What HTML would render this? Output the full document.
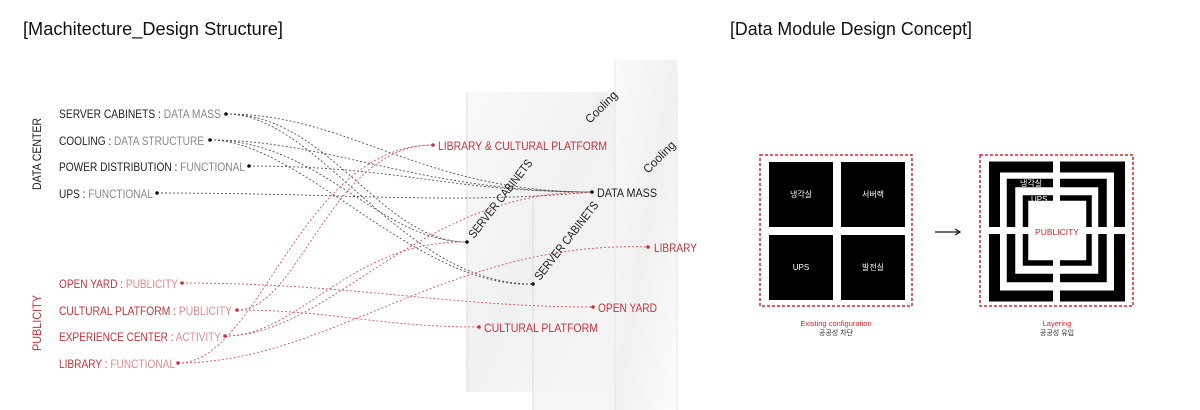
<!DOCTYPE html>
<html><head><meta charset="utf-8"><style>
html,body{margin:0;padding:0;background:#fff;}
svg{display:block;font-family:"Liberation Sans","Noto Sans CJK KR",sans-serif;}
</style></head><body>
<svg width="1200" height="410" viewBox="0 0 1200 410" xmlns="http://www.w3.org/2000/svg">
<defs>
<linearGradient id="g1" x1="0" y1="0" x2="1" y2="1">
<stop offset="0" stop-color="#fafafa"/><stop offset="0.5" stop-color="#f0f0f0"/><stop offset="1" stop-color="#fcfcfc"/>
</linearGradient>
</defs>
<rect width="1200" height="410" fill="#fff"/>
<text x="23" y="35" font-size="18" fill="#111" textLength="260" lengthAdjust="spacingAndGlyphs">[Machitecture_Design Structure]</text>
<text x="730" y="35" font-size="18" fill="#111" textLength="242" lengthAdjust="spacingAndGlyphs">[Data Module Design Concept]</text>

<!-- panels -->
<rect x="467" y="92" width="148" height="300" fill="url(#g1)"/>
<rect x="533" y="198" width="82" height="212" fill="#f2f2f2" opacity="0.7"/>
<rect x="615" y="60" width="62" height="350" fill="url(#g1)"/>
<line x1="467" y1="92" x2="467" y2="392" stroke="#dcdcdc"/>
<line x1="533" y1="198" x2="533" y2="410" stroke="#dcdcdc"/>
<line x1="615" y1="60" x2="615" y2="410" stroke="#e6e6e6"/>
<line x1="677" y1="70" x2="677" y2="410" stroke="#e6e6e6"/>

<!-- connectors black -->
<g fill="none" stroke="#555" stroke-width="0.9" stroke-dasharray="2,2">
<path d="M226,114 C350,114 420,192 592,192"/>
<path d="M226,114 C330,114 380,242 467,242"/>
<path d="M226,114 C320,114 400,284 533,284"/>
<path d="M210,140 C330,140 420,192 592,192"/>
<path d="M210,140 C320,140 380,242 467,242"/>
<path d="M210,140 C300,140 420,290 533,284"/>
<path d="M249,166 C400,166 450,192 592,192"/>
<path d="M157,193 C350,193 450,205 592,192"/>
</g>
<!-- connectors red -->
<g fill="none" stroke="#e0505a" stroke-width="0.9" stroke-dasharray="2,2">
<path d="M182,283 C350,283 450,307 593,307"/>
<path d="M237,310 C300,310 330,145 433,145"/>
<path d="M237,310 C330,310 380,327 479,327"/>
<path d="M225,336 C330,336 420,190 592,192"/>
<path d="M225,336 C300,336 350,240 467,242"/>
<path d="M178,363 C260,363 300,145 433,145"/>
<path d="M178,363 C330,363 450,240 648,247"/>
</g>

<g font-size="12" lengthAdjust="spacingAndGlyphs">
<text x="59" y="118" fill="#222" textLength="162" lengthAdjust="spacingAndGlyphs">SERVER CABINETS : <tspan fill="#888">DATA MASS</tspan></text>
<text x="59" y="145" fill="#222" textLength="145" lengthAdjust="spacingAndGlyphs">COOLING : <tspan fill="#888">DATA STRUCTURE</tspan></text>
<text x="59" y="171" fill="#222" textLength="186" lengthAdjust="spacingAndGlyphs">POWER DISTRIBUTION : <tspan fill="#888">FUNCTIONAL</tspan></text>
<text x="59" y="198" fill="#222" textLength="94" lengthAdjust="spacingAndGlyphs">UPS : <tspan fill="#888">FUNCTIONAL</tspan></text>
<text x="59" y="288" fill="#c8323c" textLength="119" lengthAdjust="spacingAndGlyphs">OPEN YARD : <tspan fill="#e48a90">PUBLICITY</tspan></text>
<text x="59" y="315" fill="#c8323c" textLength="173" lengthAdjust="spacingAndGlyphs">CULTURAL PLATFORM : <tspan fill="#e48a90">PUBLICITY</tspan></text>
<text x="59" y="341" fill="#c8323c" textLength="162" lengthAdjust="spacingAndGlyphs">EXPERIENCE CENTER : <tspan fill="#e48a90">ACTIVITY</tspan></text>
<text x="59" y="368" fill="#c8323c" textLength="116" lengthAdjust="spacingAndGlyphs">LIBRARY : <tspan fill="#e48a90">FUNCTIONAL</tspan></text>
<text transform="translate(41,190) rotate(-90)" fill="#222" textLength="72" lengthAdjust="spacingAndGlyphs">DATA CENTER</text>
<text transform="translate(41,351) rotate(-90)" fill="#c8323c" textLength="56" lengthAdjust="spacingAndGlyphs">PUBLICITY</text>

<text x="438" y="150" fill="#c8323c" textLength="169" lengthAdjust="spacingAndGlyphs">LIBRARY &amp; CULTURAL PLATFORM</text>
<text x="597" y="197" fill="#222" textLength="60" lengthAdjust="spacingAndGlyphs">DATA MASS</text>
<text x="654" y="252" fill="#c8323c" textLength="43" lengthAdjust="spacingAndGlyphs">LIBRARY</text>
<text x="598" y="312" fill="#c8323c" textLength="59" lengthAdjust="spacingAndGlyphs">OPEN YARD</text>
<text x="484" y="332" fill="#c8323c" textLength="114" lengthAdjust="spacingAndGlyphs">CULTURAL PLATFORM</text>
<text transform="translate(474,239) rotate(-52)" fill="#222" textLength="96" lengthAdjust="spacingAndGlyphs">SERVER CABINETS</text>
<text transform="translate(540,281) rotate(-52)" fill="#222" textLength="96" lengthAdjust="spacingAndGlyphs">SERVER CABINETS</text>
<text transform="translate(590,124) rotate(-45)" fill="#222" textLength="40" lengthAdjust="spacingAndGlyphs">Cooling</text>
<text transform="translate(648,174) rotate(-45)" fill="#222" textLength="40" lengthAdjust="spacingAndGlyphs">Cooling</text>
</g>
<g fill="#111">
<circle cx="226" cy="114" r="1.8"/><circle cx="210" cy="140" r="1.8"/><circle cx="249" cy="166" r="1.8"/><circle cx="157" cy="193" r="1.8"/>
<circle cx="592" cy="192" r="1.8"/><circle cx="467" cy="242" r="1.8"/><circle cx="533" cy="284" r="1.8"/>
</g>
<g fill="#c8323c">
<circle cx="182" cy="283" r="1.8"/><circle cx="237" cy="310" r="1.8"/><circle cx="225" cy="336" r="1.8"/><circle cx="178" cy="363" r="1.8"/>
<circle cx="433" cy="145" r="1.8"/><circle cx="648" cy="247" r="1.8"/><circle cx="593" cy="307" r="1.8"/><circle cx="479" cy="327" r="1.8"/>
</g>

<!-- left module -->
<rect x="760" y="155" width="152" height="151" fill="none" stroke="#e0202c" stroke-width="1.5" stroke-dasharray="3,2"/>
<rect x="769" y="162" width="64" height="65" fill="#000"/>
<rect x="841" y="162" width="64" height="65" fill="#000"/>
<rect x="769" y="235" width="64" height="65" fill="#000"/>
<rect x="841" y="235" width="64" height="65" fill="#000"/>
<g font-size="8" fill="#fff" text-anchor="middle">
<text x="801" y="197">냉각실</text><text x="873" y="197">서버랙</text>
<text x="801" y="270">UPS</text><text x="873" y="270">발전실</text>
</g>
<text x="836" y="326" font-size="7.5" fill="#e0202c" text-anchor="middle">Existing configuration</text>
<text x="836" y="335" font-size="7" fill="#333" text-anchor="middle">공공성 차단</text>

<!-- arrow -->
<line x1="935" y1="232" x2="959" y2="232" stroke="#111" stroke-width="1.3"/>
<path d="M955,229 L960,232 L955,235" fill="none" stroke="#111" stroke-width="1.2"/>

<!-- right module -->
<rect x="980" y="155" width="153" height="151" fill="none" stroke="#e0202c" stroke-width="1.5" stroke-dasharray="3,2"/>
<g fill="none" stroke="#000">
<rect x="994.5" y="167" width="125" height="129" stroke-width="11"/>
<rect x="1011" y="183" width="91.5" height="95" stroke-width="8.5"/>
<rect x="1025.5" y="198" width="63.5" height="65" stroke-width="5.5"/>
</g>
<rect x="1053" y="160" width="7" height="145" fill="#fff"/>
<rect x="985" y="227" width="145" height="7" fill="#fff"/>
<text x="1020" y="186" font-size="8" fill="#fff">냉각실</text>
<text x="1031" y="202" font-size="8" fill="#fff">UPS</text>
<text x="1057" y="235" font-size="8.5" fill="#e0202c" text-anchor="middle">PUBLICITY</text>
<text x="1057" y="326" font-size="7.5" fill="#e0202c" text-anchor="middle">Layering</text>
<text x="1057" y="335" font-size="7" fill="#333" text-anchor="middle">공공성 유입</text>
</svg>
</body></html>
